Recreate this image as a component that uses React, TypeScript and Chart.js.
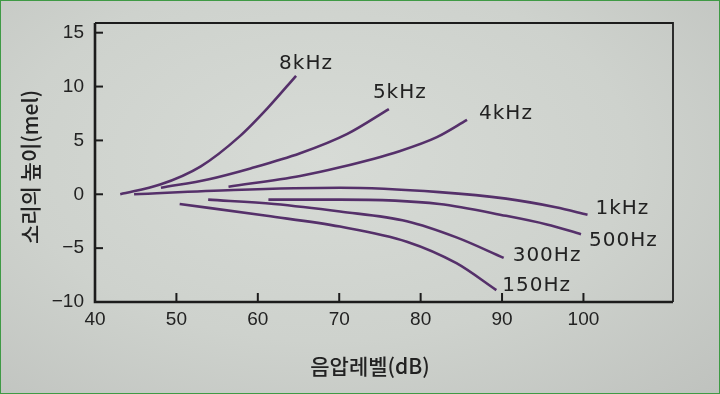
import React, { useEffect, useRef } from "react";
import { Chart, registerables } from "chart.js";

Chart.register(...registerables);

// ---- data ----
const xTicks = [40, 50, 60, 70, 80, 90, 100];
const yTicks = [-10, -5, 0, 5, 10, 15];

const seriesNames = ["8kHz", "5kHz", "4kHz", "1kHz", "500Hz", "300Hz", "150Hz"];

const s8k = [
  { x: 43.1, y: 0 }, { x: 48, y: 0.9 }, { x: 53, y: 2.6 }, { x: 57.8, y: 5.4 },
  { x: 61.2, y: 8.0 }, { x: 64.7, y: 11.0 },
];
const s5k = [
  { x: 48.1, y: 0.6 }, { x: 54, y: 1.4 }, { x: 59.1, y: 2.4 }, { x: 65.2, y: 3.8 },
  { x: 71, y: 5.6 }, { x: 76.1, y: 7.9 },
];
const s4k = [
  { x: 56.4, y: 0.7 }, { x: 65.2, y: 1.7 }, { x: 70.1, y: 2.5 }, { x: 77.4, y: 4.0 },
  { x: 82, y: 5.3 }, { x: 85.7, y: 6.9 },
];
const s1k = [
  { x: 44.8, y: 0 }, { x: 57, y: 0.4 }, { x: 70.1, y: 0.6 }, { x: 82.3, y: 0.2 },
  { x: 90.5, y: -0.4 }, { x: 96.6, y: -1.2 }, { x: 100.5, y: -1.9 },
];
const s500 = [
  { x: 61.3, y: -0.5 }, { x: 70.1, y: -0.5 }, { x: 82.3, y: -0.9 }, { x: 90.5, y: -2.0 },
  { x: 95.5, y: -2.8 }, { x: 99.7, y: -3.7 },
];
const s300 = [
  { x: 53.9, y: -0.5 }, { x: 62, y: -0.9 }, { x: 70.1, y: -1.6 }, { x: 78.3, y: -2.5 },
  { x: 84.4, y: -4.0 }, { x: 90.2, y: -5.9 },
];
const s150 = [
  { x: 50.4, y: -0.9 }, { x: 61.1, y: -2.0 }, { x: 70.1, y: -3.0 }, { x: 78.3, y: -4.4 },
  { x: 84.4, y: -6.4 }, { x: 89.3, y: -8.9 },
];
const seriesData = [s8k, s5k, s4k, s1k, s500, s300, s150];

const xTitle = "음압레벨(dB)";
const yTitle = "소리의 높이(mel)";

// ---- styling / label placement (pixel offsets from each curve's end) ----
const labelOffsets: [number, number][] = [
  [-17, -12], [-16, -16], [12, -6], [8, -6], [8, 7], [9, -2], [6, -4],
];
const lineColor = "#55306a";
const inkColor = "#222222";

const decorPlugin = {
  id: "decor",
  afterDatasetsDraw(chart: any) {
    const { ctx, chartArea, scales } = chart;
    const xs = scales.x;
    const ys = scales.y;
    const { left, right, top, bottom } = chartArea;
    ctx.save();
    // frame
    ctx.strokeStyle = "#1c1c1c";
    ctx.lineWidth = 1.8;
    ctx.beginPath();
    ctx.moveTo(left, top);
    ctx.lineTo(right, top);
    ctx.lineTo(right, bottom);
    ctx.stroke();
    ctx.lineWidth = 2.6;
    ctx.beginPath();
    ctx.moveTo(left, top);
    ctx.lineTo(left, bottom);
    ctx.lineTo(right, bottom);
    ctx.stroke();
    // inner ticks
    ctx.lineWidth = 2;
    yTicks.forEach((v) => {
      if (v === yTicks[0]) return;
      const py = ys.getPixelForValue(v);
      ctx.beginPath();
      ctx.moveTo(left, py);
      ctx.lineTo(left + 8, py);
      ctx.stroke();
    });
    xTicks.forEach((v) => {
      if (v === xTicks[0]) return;
      const px = xs.getPixelForValue(v);
      ctx.beginPath();
      ctx.moveTo(px, bottom);
      ctx.lineTo(px, bottom - 9);
      ctx.stroke();
    });
    // curve labels
    ctx.fillStyle = inkColor;
    ctx.font = '20px "DejaVu Sans", sans-serif';
    (ctx as any).letterSpacing = "1px";
    ctx.textAlign = "left";
    ctx.textBaseline = "middle";
    seriesData.forEach((d, i) => {
      const last = d[d.length - 1];
      const px = xs.getPixelForValue(last.x) + labelOffsets[i][0];
      const py = ys.getPixelForValue(last.y) + labelOffsets[i][1];
      ctx.fillText(seriesNames[i], px, py);
    });
    (ctx as any).letterSpacing = "0px";
    // axis titles
    ctx.font = '500 21px "Noto Sans CJK KR", sans-serif';
    ctx.textAlign = "center";
    ctx.fillText(xTitle, 370, 366);
    ctx.translate(30, 167);
    ctx.rotate(-Math.PI / 2);
    ctx.fillText(yTitle, 0, 0);
    ctx.restore();
  },
};

export default function App() {
  const canvasRef = useRef<HTMLCanvasElement | null>(null);

  useEffect(() => {
    document.body.style.margin = "0";
    const canvas = canvasRef.current;
    if (!canvas) return;
    const chart = new Chart(canvas, {
      type: "scatter",
      data: {
        datasets: seriesData.map((d, i) => ({
          label: seriesNames[i],
          data: d,
          showLine: true,
          borderColor: lineColor,
          backgroundColor: lineColor,
          borderWidth: 2.6,
          pointRadius: 0,
          cubicInterpolationMode: "monotone" as const,
        })),
      },
      options: {
        responsive: false,
        animation: false,
        events: [],
        layout: { padding: { top: 23, right: 47, left: 0, bottom: 0 } },
        plugins: { legend: { display: false }, tooltip: { enabled: false } },
        scales: {
          x: {
            type: "linear",
            min: 40,
            max: 111,
            afterBuildTicks: (scale: any) => {
              scale.ticks = xTicks.map((v) => ({ value: v }));
            },
            afterFit: (scale: any) => {
              scale.height = 92;
            },
            grid: { display: false, drawTicks: false },
            border: { display: false },
            ticks: {
              color: inkColor,
              font: { family: '"Liberation Sans", Arial, sans-serif', size: 19 },
              padding: 6,
              maxRotation: 0,
              callback: (v: any) => String(v),
            },
          },
          y: {
            type: "linear",
            min: -10,
            max: 15.9,
            afterBuildTicks: (scale: any) => {
              scale.ticks = yTicks.map((v) => ({ value: v }));
            },
            afterFit: (scale: any) => {
              scale.width = 95;
            },
            grid: { display: false, drawTicks: false },
            border: { display: false },
            ticks: {
              color: inkColor,
              font: { family: '"Liberation Sans", Arial, sans-serif', size: 19 },
              padding: 11,
              callback: (v: any) => (v < 0 ? "\u2212" + Math.abs(v) : String(v)),
            },
          },
        },
      },
      plugins: [decorPlugin],
    });
    return () => chart.destroy();
  }, []);

  return (
    <div
      style={{
        position: "absolute",
        left: 0,
        top: 0,
        width: 720,
        height: 394,
        boxSizing: "border-box",
        border: "1px solid #3f9a45",
        background:
          "radial-gradient(ellipse at 45% 40%, #d7dbd6 0%, #ced2cd 55%, #bfc2be 100%)",
        overflow: "hidden",
      }}
    >
      <canvas ref={canvasRef} width={720} height={394} style={{ position: "absolute", left: -1, top: -1 }} />
    </div>
  );
}
